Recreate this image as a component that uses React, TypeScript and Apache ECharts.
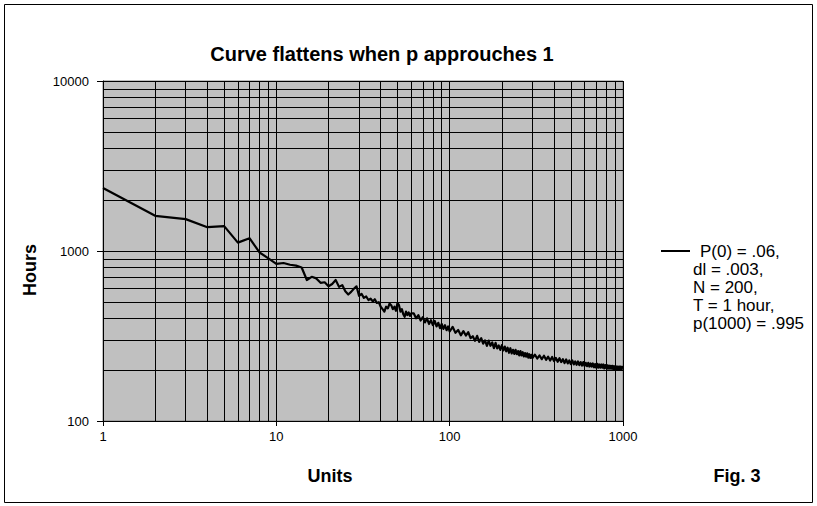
import React, { useEffect, useRef } from "react";
import * as echarts from "echarts";

const chartTitle = "Curve flattens when p approuches 1";
const xAxisTitle = "Units";
const yAxisTitle = "Hours";
const figureLabel = "Fig. 3";
const legendLines = ["P(0) = .06,", "dl = .003,", "N = 200,", "T = 1 hour,", "p(1000) = .995"];

const xRange = [1, 1000];
const yRange = [100, 10000];
const xMinorGrid = [2, 3, 4, 5, 6, 7, 8, 9, 20, 30, 40, 50, 60, 70, 80, 90, 200, 300, 400, 500, 600, 700, 800, 900];
const yMinorGrid = [200, 300, 400, 500, 600, 700, 800, 900, 2000, 3000, 4000, 5000, 6000, 7000, 8000, 9000];

const units = [
  1, 2, 3, 4, 5, 6, 7, 8, 9, 10,
  11, 12, 13, 14, 15, 16, 17, 18, 19, 20,
  21, 22, 23, 24, 25, 26, 27, 28, 29, 30,
  31, 32, 33, 34, 35, 36, 37, 38, 39, 40,
  41, 42, 43, 44, 45, 46, 47, 48, 49, 50,
  51, 52, 53, 54, 55, 56, 57, 58, 59, 60,
  62, 64, 66, 68, 70, 72, 74, 76, 78, 80,
  82, 84, 86, 88, 90, 92, 94, 96, 98, 100,
  104, 108, 112, 116, 120, 124, 128, 132, 136, 140,
  144, 148, 152, 156, 160, 164, 168, 172, 176, 180,
  184, 188, 192, 196, 200, 204, 208, 212, 216, 220,
  224, 228, 232, 236, 240, 244, 248, 252, 256, 260,
  264, 268, 272, 276, 280, 284, 288, 292, 296, 300,
  310, 320, 330, 340, 350, 360, 370, 380, 390, 400,
  410, 420, 430, 440, 450, 460, 470, 480, 490, 500,
  510, 520, 530, 540, 550, 560, 570, 580, 590, 600,
  610, 620, 630, 640, 650, 660, 670, 680, 690, 700,
  710, 720, 730, 740, 750, 760, 770, 780, 790, 800,
  810, 820, 830, 840, 850, 860, 870, 880, 890, 900,
  910, 920, 930, 940, 950, 960, 970, 980, 990, 1000,
];

const hours = [
  2350, 1610, 1540, 1380, 1400, 1120, 1190, 980, 905, 840,
  850, 830, 820, 800, 675, 705, 690, 650, 655, 620,
  640, 675, 615, 630, 580, 555, 575, 600, 620, 545,
  560, 530, 540, 515, 525, 505, 520, 495, 500, 470,
  455, 440, 470, 460, 490, 480, 455, 470, 445, 495,
  480, 440, 455, 425, 410, 440, 420, 435, 415, 430,
  430, 402, 420, 390, 408, 380, 402, 372, 392, 366,
  388, 360, 378, 352, 372, 348, 366, 342, 360, 336,
  358, 330, 343, 319, 338, 318, 333, 307, 315, 296,
  317, 292, 307, 285, 298, 277, 297, 277, 290, 268,
  288, 267, 278, 262, 279, 260, 274, 257, 270, 252,
  268, 250, 262, 248, 262, 247, 258, 243, 258, 243,
  254, 240, 251, 239, 250, 236, 247, 235, 245, 234,
  246, 233, 243, 231, 242, 229, 239, 227, 238, 225,
  235, 223, 234, 222, 231, 219, 230, 218, 227, 216,
  227, 215, 224, 214, 224, 213, 222, 212, 222, 211,
  220, 210, 220, 209, 218, 209, 218, 207, 216, 206,
  217, 206, 215, 206, 215, 206, 215, 204, 213, 205,
  213, 203, 212, 203, 211, 203, 211, 202, 210, 202,
  210, 201, 209, 201, 209, 200, 209, 200, 208, 204,
];

const FONT = '"Liberation Sans", Arial, sans-serif';

export default function App() {
  const ref = useRef<HTMLDivElement>(null);

  useEffect(() => {
    if (!ref.current) return;
    const chart = echarts.init(ref.current, null, { renderer: "svg" });
    const seriesData = units.map((u, i) => [u, hours[i]]);
    const markData = [
      ...xMinorGrid.map((v) => ({ xAxis: v })),
      ...yMinorGrid.map((v) => ({ yAxis: v })),
    ];
    const legendGraphics: any[] = legendLines.map((t, i) => ({
      type: "text",
      x: i === 0 ? 700 : 693,
      y: 251 + i * 18,
      silent: true,
      style: {
        text: t,
        font: `17px ${FONT}`,
        fill: "#000",
        align: "left",
        verticalAlign: "middle",
      },
    }));

    chart.setOption({
      animation: false,
      backgroundColor: "#ffffff",
      title: {
        text: chartTitle,
        left: 377,
        top: 39,
        textAlign: "center",
        textStyle: { fontFamily: FONT, fontWeight: "bold", fontSize: 20, color: "#000" },
      },
      grid: {
        left: 103,
        top: 81,
        width: 520,
        height: 340,
        show: true,
        backgroundColor: "#c0c0c0",
        borderColor: "#808080",
        borderWidth: 1,
        containLabel: false,
      },
      xAxis: {
        type: "log",
        logBase: 10,
        min: xRange[0],
        max: xRange[1],
        axisLine: { show: true, onZero: false, lineStyle: { color: "#000", width: 1 } },
        axisTick: { show: true, length: 5, lineStyle: { color: "#000" } },
        axisLabel: {
          margin: 9,
          color: "#000",
          fontFamily: FONT,
          fontSize: 13,
          formatter: (v: number) => String(Math.round(v)),
        },
        splitLine: { show: true, lineStyle: { color: "#000", width: 1 } },
      },
      yAxis: {
        type: "log",
        logBase: 10,
        min: yRange[0],
        max: yRange[1],
        axisLine: { show: true, onZero: false, lineStyle: { color: "#000", width: 1 } },
        axisTick: { show: true, length: 6, lineStyle: { color: "#000" } },
        axisLabel: {
          margin: 14,
          color: "#000",
          fontFamily: FONT,
          fontSize: 13,
          formatter: (v: number) => String(Math.round(v)),
        },
        splitLine: { show: true, lineStyle: { color: "#000", width: 1 } },
      },
      series: [
        {
          name: legendLines.join(" "),
          type: "line",
          data: seriesData,
          showSymbol: false,
          symbol: "none",
          z: 3,
          lineStyle: { color: "#000", width: 2.2, join: "round" },
          markLine: {
            silent: true,
            symbol: ["none", "none"],
            z: 1,
            label: { show: false },
            lineStyle: { color: "#000", width: 1, type: "solid" },
            emphasis: { disabled: true },
            data: markData,
          },
        },
      ],
      graphic: [
        {
          type: "rect",
          silent: true,
          z: -10,
          shape: { x: 4.5, y: 4.5, width: 808, height: 498 },
          style: { fill: "none", stroke: "#000", lineWidth: 1 },
        },
        {
          type: "text",
          x: 30,
          y: 270,
          rotation: Math.PI / 2,
          silent: true,
          style: {
            text: yAxisTitle,
            font: `bold 18px ${FONT}`,
            fill: "#000",
            align: "center",
            verticalAlign: "middle",
          },
        },
        {
          type: "text",
          x: 330,
          y: 476,
          silent: true,
          style: {
            text: xAxisTitle,
            font: `bold 18px ${FONT}`,
            fill: "#000",
            align: "center",
            verticalAlign: "middle",
          },
        },
        {
          type: "text",
          x: 737,
          y: 476,
          silent: true,
          style: {
            text: figureLabel,
            font: `bold 18px ${FONT}`,
            fill: "#000",
            align: "center",
            verticalAlign: "middle",
          },
        },
        {
          type: "line",
          silent: true,
          shape: { x1: 661, y1: 251, x2: 690, y2: 251 },
          style: { stroke: "#000", lineWidth: 2 },
        },
        ...legendGraphics,
      ],
    });
    return () => chart.dispose();
  }, []);

  return (
    <div
      ref={ref}
      style={{ position: "fixed", left: 0, top: 0, width: 817, height: 506, background: "#fff" }}
    />
  );
}
